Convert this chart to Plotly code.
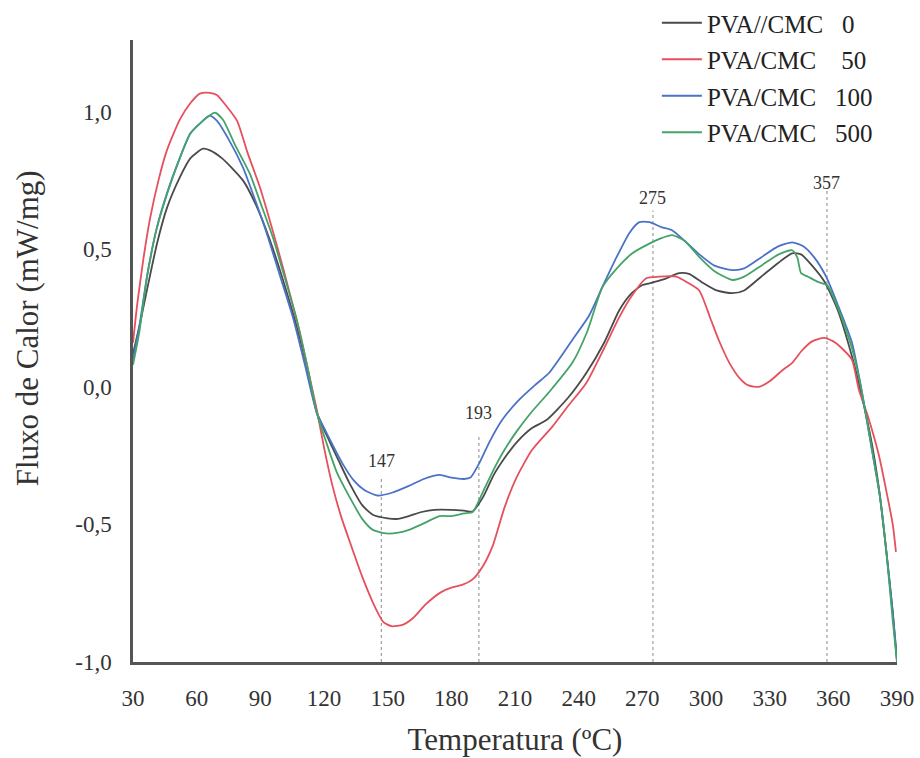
import plotly.graph_objects as go

# DSC curves: heat flow (mW/mg) versus temperature (ºC)
names = ["PVA//CMC\u00a0\u00a0\u00a00", "PVA/CMC\u00a0\u00a0\u00a0\u00a050",
         "PVA/CMC\u00a0\u00a0\u00a0100", "PVA/CMC\u00a0\u00a0\u00a0500"]
colors = ["#4a4a4a", "#e5505c", "#4a72c8", "#44a368"]

t_cmc0 = [30, 33.3, 36, 41.3, 46, 52, 57, 63, 66, 72, 81.8, 88, 94.5, 101, 107.2, 112, 116.6,
          122.7, 127, 132, 138, 143, 150, 155, 160, 166, 172, 180, 186, 190, 195, 200, 205, 211,
          218, 225, 235, 243.6, 252, 259.2, 265, 270, 273.3, 280, 287.4, 292, 298, 305, 312.4,
          318, 326, 334, 340.6, 345, 350, 356, 362, 368.8, 373, 378, 381.5, 385, 388, 390]
q_cmc0 = [0.12, 0.23, 0.33, 0.52, 0.65, 0.76, 0.83, 0.865, 0.86, 0.83, 0.75, 0.66, 0.533, 0.38,
          0.217, 0.07, -0.094, -0.2, -0.27, -0.35, -0.43, -0.465, -0.478, -0.48, -0.47, -0.455,
          -0.447, -0.447, -0.45, -0.453, -0.4, -0.32, -0.26, -0.2, -0.15, -0.12, -0.04, 0.05, 0.16,
          0.279, 0.34, 0.37, 0.376, 0.39, 0.413, 0.41, 0.38, 0.35, 0.34, 0.35, 0.4, 0.45, 0.485,
          0.48, 0.44, 0.38, 0.28, 0.11, -0.02, -0.2, -0.37, -0.6, -0.82, -0.99]

t_cmc50 = [30, 32, 35, 38, 42, 46, 52, 57, 61.5, 66, 69.5, 74, 79, 84, 89.8, 95, 100.6,
           104.5, 108.6, 112.5, 116.6, 120, 124, 128, 132, 138, 144, 148, 152, 157, 162, 168, 175,
           180, 185, 190, 195, 199.4, 205, 210.7, 218, 227.6, 235, 243.6, 252, 259.2, 265, 272,
           278, 282.7, 286, 291, 296.8, 302, 306, 311, 316, 320, 325, 330, 336, 340.6, 345, 350,
           355.6, 360, 364, 368.8, 372, 376, 381.5, 385, 388, 389.5]
q_cmc50 = [0.16, 0.3, 0.47, 0.61, 0.75, 0.86, 0.97, 1.03, 1.065, 1.068, 1.06, 1.02, 0.967,
           0.85, 0.725, 0.59, 0.435, 0.32, 0.196, 0.06, -0.083, -0.22, -0.36, -0.47, -0.56, -0.69,
           -0.8, -0.855, -0.87, -0.865, -0.84, -0.79, -0.747, -0.73, -0.72, -0.7, -0.65, -0.58,
           -0.44, -0.33, -0.23, -0.145, -0.07, 0.014, 0.14, 0.254, 0.33, 0.395, 0.4, 0.402, 0.4,
           0.38, 0.35, 0.25, 0.17, 0.087, 0.03, 0.005, 0.0, 0.02, 0.06, 0.087, 0.13, 0.165, 0.178,
           0.165, 0.14, 0.098, -0.01, -0.1, -0.25, -0.38, -0.5, -0.6]

t_cmc100 = [30, 33, 36.6, 41, 46, 52, 57, 61.5, 66, 69.5, 75, 81.8, 87, 93, 99, 105.3, 111,
            116.6, 122.7, 128.8, 134, 139, 145.3, 152, 160, 167, 174.5, 180, 186, 189, 193,
            198, 204, 212, 220, 226, 237, 245, 251, 257.8, 264, 268.6, 273.3, 279, 284, 290, 297,
            304, 312.4, 318, 326, 334, 340.6, 346, 351, 356.6, 362, 368.8, 373, 378, 382, 385,
            388, 390]
q_cmc100 = [0.1, 0.22, 0.4, 0.57, 0.703, 0.83, 0.92, 0.956, 0.985, 0.967, 0.9, 0.797, 0.69,
            0.558, 0.41, 0.254, 0.08, -0.094, -0.19, -0.28, -0.34, -0.375, -0.395, -0.385, -0.36,
            -0.335, -0.32, -0.33, -0.335, -0.33, -0.28, -0.2, -0.12, -0.047, 0.01, 0.05, 0.17,
            0.26, 0.36, 0.47, 0.56, 0.598, 0.598, 0.58, 0.569, 0.53, 0.48, 0.44, 0.424, 0.43,
            0.47, 0.51, 0.525, 0.51, 0.47, 0.4, 0.3, 0.16, 0.0, -0.22, -0.4, -0.6, -0.82, -1.0]

t_cmc500 = [30, 33, 36.6, 41, 46, 52, 57, 62, 68.6, 72.4, 78, 85, 90, 95.9, 101, 107.2, 112,
            116.6, 121, 126, 132, 138, 143, 149.5, 155, 160, 166, 174.5, 180, 186, 190, 195, 200,
            205, 210.7, 218, 226, 237, 244, 251.2, 258, 265.3, 273.3, 279, 284, 290, 297, 304,
            312.4, 318, 326, 334, 340.6, 343, 344.8, 348, 353, 357, 362, 368.8, 373, 378, 382,
            385, 388, 390]
q_cmc500 = [0.08, 0.2, 0.4, 0.57, 0.7, 0.83, 0.92, 0.96, 0.996, 0.97, 0.88, 0.775, 0.67, 0.543,
            0.41, 0.243, 0.08, -0.094, -0.2, -0.31, -0.4, -0.48, -0.52, -0.533, -0.53, -0.52,
            -0.5, -0.47, -0.47, -0.46, -0.455, -0.38, -0.3, -0.23, -0.163, -0.09, -0.02, 0.087,
            0.2, 0.362, 0.43, 0.485, 0.52, 0.54, 0.551, 0.53, 0.47, 0.42, 0.388, 0.4, 0.44, 0.48,
            0.496, 0.47, 0.413, 0.4, 0.38, 0.37, 0.29, 0.14, 0.0, -0.22, -0.4, -0.6, -0.85, -1.0]

temps = [t_cmc0, t_cmc50, t_cmc100, t_cmc500]
flows = [q_cmc0, q_cmc50, q_cmc100, q_cmc500]

# marked transition temperatures (ºC) and the height each marker line reaches
peak_temps = [147, 193, 275, 357]
peak_tops = [-0.33, -0.175, 0.64, 0.72]
peak_label_y = [-0.27, -0.095, 0.685, 0.74]

x_ticks = list(range(30, 391, 30))
y_ticks = [-1.0, -0.5, 0.0, 0.5, 1.0]
y_text = [f"{v:.1f}".replace(".", ",") for v in y_ticks]

SERIF = "Liberation Serif, Times New Roman, serif"

fig = go.Figure()
for name, color, t, q in zip(names, colors, temps, flows):
    fig.add_trace(go.Scatter(
        x=t, y=q, name=name, mode="lines",
        line=dict(color=color, width=1.8, shape="spline", smoothing=0.6),
        legendgroup=name,
    ))

for t, top, ly in zip(peak_temps, peak_tops, peak_label_y):
    fig.add_shape(type="line", xref="x", yref="y", x0=t, x1=t, y0=-1.0, y1=top,
                  line=dict(color="#8a8a8a", width=1, dash="dot"), layer="below")
    fig.add_annotation(x=t, y=ly, xref="x", yref="y", text=str(t), showarrow=False,
                       font=dict(family=SERIF, size=18, color="#333333"))

# y-axis title placed by hand so it sits slightly above the axis centre
fig.add_annotation(x=-0.137, y=0.537, xref="paper", yref="paper", textangle=-90,
                   text="Fluxo de Calor (mW/mg)", showarrow=False,
                   xanchor="center", yanchor="middle",
                   font=dict(family=SERIF, size=31, color="#333333"))

fig.update_layout(
    width=920, height=758,
    margin=dict(l=133, r=23, t=40, b=96, autoexpand=False),
    paper_bgcolor="white", plot_bgcolor="white",
    font=dict(family=SERIF, color="#333333"),
    showlegend=True,
    legend=dict(
        xref="container", yref="container",
        x=0.714, y=1.0, xanchor="left", yanchor="top",
        font=dict(family=SERIF, size=25, color="#222222"),
        bgcolor="rgba(0,0,0,0)", tracegroupgap=1, itemwidth=40,
    ),
    xaxis=dict(
        range=[30, 390], tickvals=x_ticks, ticks="", showgrid=False, zeroline=False,
        showline=True, linecolor="#555555", linewidth=2.5,
        tickfont=dict(family=SERIF, size=23, color="#333333"), ticklabelstandoff=14,
        title=dict(text="Temperatura (ºC)", font=dict(family=SERIF, size=31, color="#333333"),
                   standoff=18),
    ),
    yaxis=dict(
        range=[-1.0, 1.26], tickvals=y_ticks, ticktext=y_text, ticks="", showgrid=False,
        zeroline=False, showline=True, linecolor="#555555", linewidth=2.5,
        tickfont=dict(family=SERIF, size=23, color="#333333"), ticklabelstandoff=14,
    ),
)

fig.write_html("out.html")
